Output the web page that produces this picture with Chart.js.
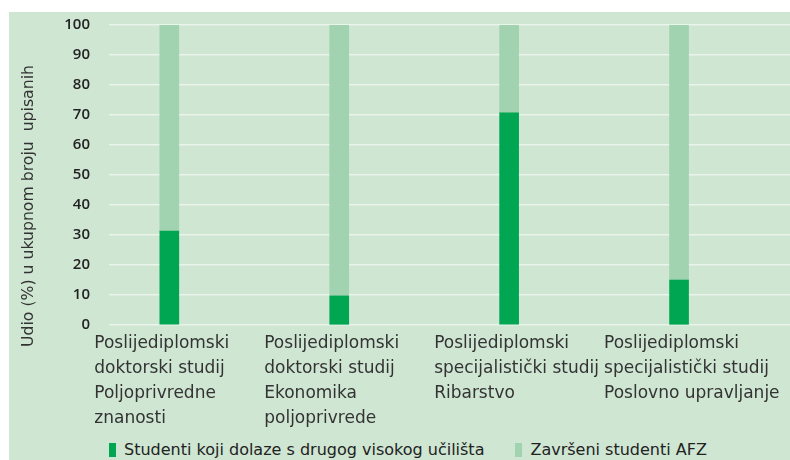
<!DOCTYPE html>
<html>
<head>
<meta charset="utf-8">
<script src="https://cdn.jsdelivr.net/npm/chart.js@4"></script>
<style>
  body { margin: 0; background: #fff; }
  #bg { position: absolute; left: 9px; top: 12px; width: 781px; height: 448px; background: #cfe6d3; }
  #box { position: absolute; left: 0; top: 0; width: 790px; height: 437px; }
  #legend { position: absolute; left: 109px; top: 440px; font: 16px "DejaVu Sans", sans-serif; color: #222; white-space: nowrap; }
  #legend span.item { display: inline-flex; align-items: center; margin-right: 31px; }
  #legend span.sw { display: inline-block; width: 7px; height: 14px; margin-right: 8px; }
</style>
</head>
<body>
<div id="bg"></div>
<div id="box"><canvas id="chart"></canvas></div>
<div id="legend"></div>
<script>
// categories (x axis)
var categories = [
  ["Poslijediplomski", "doktorski studij", "Poljoprivredne", "znanosti"],
  ["Poslijediplomski", "doktorski studij", "Ekonomika", "poljoprivrede"],
  ["Poslijediplomski", "specijalistički studij", "Ribarstvo"],
  ["Poslijediplomski", "specijalistički studij", "Poslovno upravljanje"]
];

// series
var seriesNames = ["Studenti koji dolaze s drugog visokog učilišta", "Završeni studenti AFZ"];
var dolaze = [31.3, 9.7, 70.7, 15];
var zavrseni = [68.7, 90.3, 29.3, 85];

// y ticks
var yTicks = [0, 10, 20, 30, 40, 50, 60, 70, 80, 90, 100];
var yTitle = "Udio (%) u ukupnom broju  upisanih";

var colors = ["#00a651", "#a1d3b0"];

function points(arr) {
  return arr.map(function (v, i) { return { x: i, y: v }; });
}

// y axis title, drawn a bit lower than the axis centre like in the original
var yTitlePlugin = {
  id: "yTitle",
  afterDraw: function (c) {
    var ctx = c.ctx;
    ctx.save();
    ctx.translate(29, 206);
    ctx.rotate(-Math.PI / 2);
    ctx.font = "15.7px 'DejaVu Sans'";
    ctx.fillStyle = "#333";
    ctx.textAlign = "center";
    ctx.textBaseline = "middle";
    ctx.fillText(yTitle, 0, 0);
    ctx.restore();
  }
};

var chart = new Chart(document.getElementById("chart"), {
  type: "bar",
  data: {
    datasets: [
      { label: seriesNames[0], data: points(dolaze), backgroundColor: colors[0], barThickness: 19 },
      { label: seriesNames[1], data: points(zavrseni), backgroundColor: colors[1], barThickness: 19 }
    ]
  },
  plugins: [yTitlePlugin],
  options: {
    responsive: true,
    maintainAspectRatio: false,
    animation: false,
    layout: { padding: { top: 25, right: 0, left: 0, bottom: 0 } },
    plugins: {
      legend: { display: false },
      tooltip: { enabled: false }
    },
    scales: {
      x: {
        type: "linear",
        stacked: true,
        offset: false,
        min: -0.355,
        max: 3.653,
        afterFit: function (s) { s.paddingLeft = 0; s.paddingRight = 0; },
        grid: { display: false, drawTicks: false },
        border: { display: false },
        ticks: {
          stepSize: 1,
          includeBounds: false,
          autoSkip: false,
          maxRotation: 0,
          minRotation: 0,
          align: "start",
          labelOffset: -75,
          padding: 6,
          color: "#333",
          font: { family: "DejaVu Sans", size: 17, lineHeight: 1.47 },
          callback: function (v) { return categories[v] || ""; }
        }
      },
      y: {
        stacked: true,
        min: yTicks[0],
        max: yTicks[yTicks.length - 1],
        afterFit: function (s) { s.width = 109; s.paddingTop = 0; s.paddingBottom = 0; },
        grid: { color: "rgba(255,255,255,0.55)", lineWidth: 1.5, drawTicks: false },
        border: { display: false },
        ticks: {
          stepSize: 10,
          padding: 19,
          color: "#222",
          font: { family: "Open Sans", size: 15, weight: "600" }
        }
      }
    }
  }
});

// legend built from the datasets
var leg = document.getElementById("legend");
chart.data.datasets.forEach(function (ds) {
  var item = document.createElement("span");
  item.className = "item";
  var sw = document.createElement("span");
  sw.className = "sw";
  sw.style.background = ds.backgroundColor;
  item.appendChild(sw);
  item.appendChild(document.createTextNode(ds.label));
  leg.appendChild(item);
});
</script>
</body>
</html>
